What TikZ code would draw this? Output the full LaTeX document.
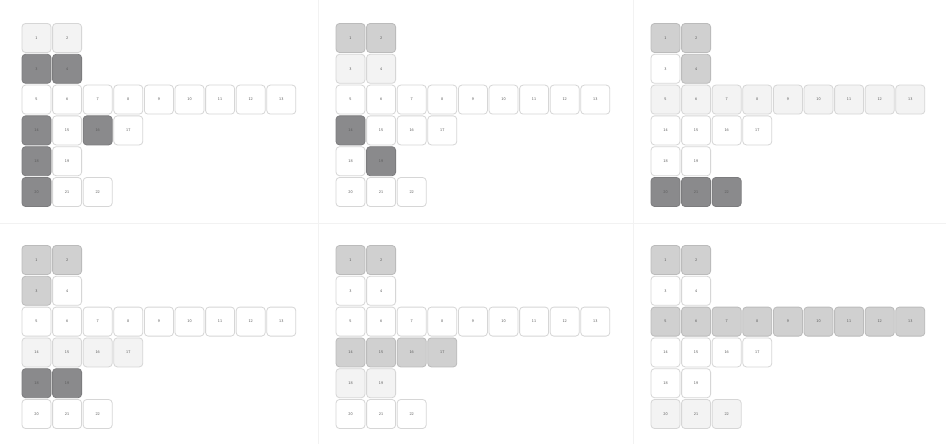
\documentclass[tikz,border=0pt]{standalone}
\usepackage{tikz}
\definecolor{cellline}{RGB}{214,214,214}
\definecolor{paleshade}{RGB}{243,243,243}
\definecolor{midshade}{RGB}{208,208,208}
\definecolor{darkshade}{RGB}{138,138,140}
\definecolor{digitgray}{RGB}{90,90,90}
\definecolor{panelrule}{RGB}{242,242,242}
% one grid of 22 cells; #1 name, #2/#3 top-left, #4 shades of cells 1..22
\newcommand{\cellgrid}[4]{%
  \foreach \s [count=\n] in {#4} {
    \pgfmathtruncatemacro{\c}{{1,2,1,2,1,2,3,4,5,6,7,8,9,1,2,3,4,1,2,1,2,3}[\n-1]}
    \pgfmathtruncatemacro{\r}{{1,1,2,2,3,3,3,3,3,3,3,3,3,4,4,4,4,5,5,6,6,6}[\n-1]}
    \node[cell,shade\s] (#1-\n) at ({#2+14.5+(\c-1)*30.6},{#3+14.5+(\r-1)*30.8}) {\n};
  }%
}

\begin{document}
\begin{tikzpicture}[x=1pt,y=-1pt,
  cell/.style={draw=cellline,line width=0.8pt,rounded corners=3.5pt,minimum size=29pt,
    inner sep=0pt,text=digitgray,font=\sffamily\fontsize{4}{5}\selectfont},
  shadew/.style={fill=white},
  shadev/.style={fill=paleshade},
  shadel/.style={fill=midshade,draw=midshade!90!black},
  shaded/.style={fill=darkshade,draw=darkshade!90!black}]
\useasboundingbox[fill=white] (0,0) rectangle (946,444);
% panel rules
\draw[panelrule,line width=0.8pt] (318,0) -- (318,444);
\draw[panelrule,line width=0.8pt] (633,0) -- (633,444);
\draw[panelrule,line width=0.8pt] (0,223) -- (946,223);
% top row
\cellgrid{A}{22}{23.5}{v,v,d,d,w,w,w,w,w,w,w,w,w,d,w,d,w,d,w,d,w,w}
\cellgrid{B}{336}{23.5}{l,l,v,v,w,w,w,w,w,w,w,w,w,d,w,w,w,w,d,w,w,w}
\cellgrid{C}{651}{23.5}{l,l,w,l,v,v,v,v,v,v,v,v,v,w,w,w,w,w,w,d,d,d}
% bottom row
\cellgrid{D}{22}{245.5}{l,l,l,w,w,w,w,w,w,w,w,w,w,v,v,v,v,d,d,w,w,w}
\cellgrid{E}{336}{245.5}{l,l,w,w,w,w,w,w,w,w,w,w,w,l,l,l,l,v,v,w,w,w}
\cellgrid{F}{651}{245.5}{l,l,w,w,l,l,l,l,l,l,l,l,l,w,w,w,w,w,w,v,v,v}
\end{tikzpicture}
\end{document}
